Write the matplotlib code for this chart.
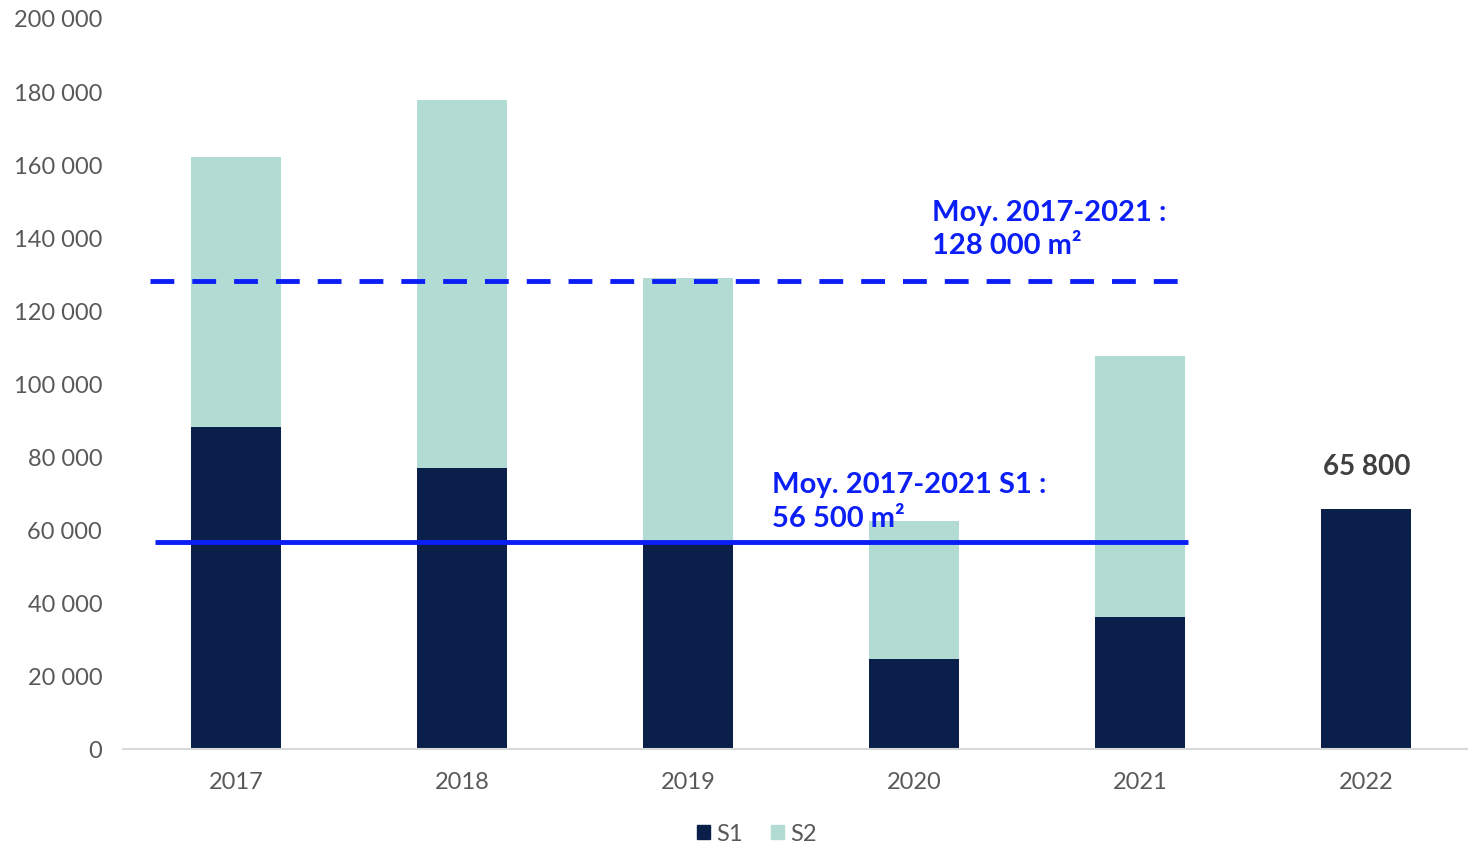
import matplotlib
matplotlib.use("Agg")
import matplotlib.pyplot as plt
from matplotlib.patches import Patch

years = ["2017", "2018", "2019", "2020", "2021", "2022"]
s1 = [88000, 77000, 56000, 24500, 36000, 65800]
s2 = [74000, 100500, 73000, 38000, 71500, 0]

avg_total = 128000
avg_s1 = 56500
avg_total_label = "Moy. 2017-2021 :\n128 000 m²"
avg_s1_label = "Moy. 2017-2021 S1 :\n56 500 m²"
last_label = "65 800"

yticks = list(range(0, 200001, 20000))
ytick_labels = [f"{v:,}".replace(",", " ") for v in yticks]

C_S1 = "#0A1F4A"
C_S2 = "#B2DCD3"
C_BLUE = "#0A1EF5"
C_TICK = "#595959"

plt.rcParams["font.family"] = ["Lato", "DejaVu Sans"]

fig = plt.figure(figsize=(14.68, 8.45), dpi=100)
ax = fig.add_axes([123 / 1468, 1 - 750 / 845, 1 - 123 / 1468, (750 - 19) / 845])

x = list(range(len(years)))
ax.bar(x, s1, width=0.4, color=C_S1, zorder=2)
ax.bar(x, s2, width=0.4, bottom=s1, color=C_S2, zorder=2)

ax.hlines(avg_total, -0.38, 4.19, colors=C_BLUE, linestyles=(0, (4.9, 3.7)), linewidth=3.5, zorder=3)
ax.hlines(avg_s1, -0.36, 4.21, colors=C_BLUE, linewidth=3.5, zorder=3)

ax.text(3.08, 150500, avg_total_label, color=C_BLUE, fontsize=21, fontweight="bold",
        ha="left", va="top", linespacing=1.35, zorder=4)
ax.text(2.37, 76000, avg_s1_label, color=C_BLUE, fontsize=21, fontweight="bold",
        ha="left", va="top", linespacing=1.35, zorder=4)

ax.annotate(last_label, (5, s1[5]), xytext=(0, 21), textcoords="offset points",
            ha="center", va="bottom", fontsize=20, fontweight="bold", color="#404040")

ax.set_xlim(-0.5, 5.45)
ax.set_ylim(0, 200000)
ax.set_xticks(x)
ax.set_xticklabels(years)
ax.set_yticks(yticks)
ax.set_yticklabels(ytick_labels)
ax.tick_params(axis="both", length=0, labelsize=17, colors=C_TICK)
ax.tick_params(axis="y", pad=15)
ax.tick_params(axis="x", pad=16)

for side in ["top", "right", "left"]:
    ax.spines[side].set_visible(False)
ax.spines["bottom"].set_color("#D9D9D9")
ax.spines["bottom"].set_linewidth(1.5)

handles = [Patch(color=C_S1, label="S1"), Patch(color=C_S2, label="S2")]
leg = fig.legend(handles=handles, loc="center", bbox_to_anchor=(757 / 1468, 1 - 835 / 845),
                 ncol=2, frameon=False, fontsize=17, handlelength=0.55, handleheight=0.55,
                 handletextpad=0.25, columnspacing=1.2)
for t in leg.get_texts():
    t.set_color(C_TICK)

fig.savefig("out.png", dpi=100)
